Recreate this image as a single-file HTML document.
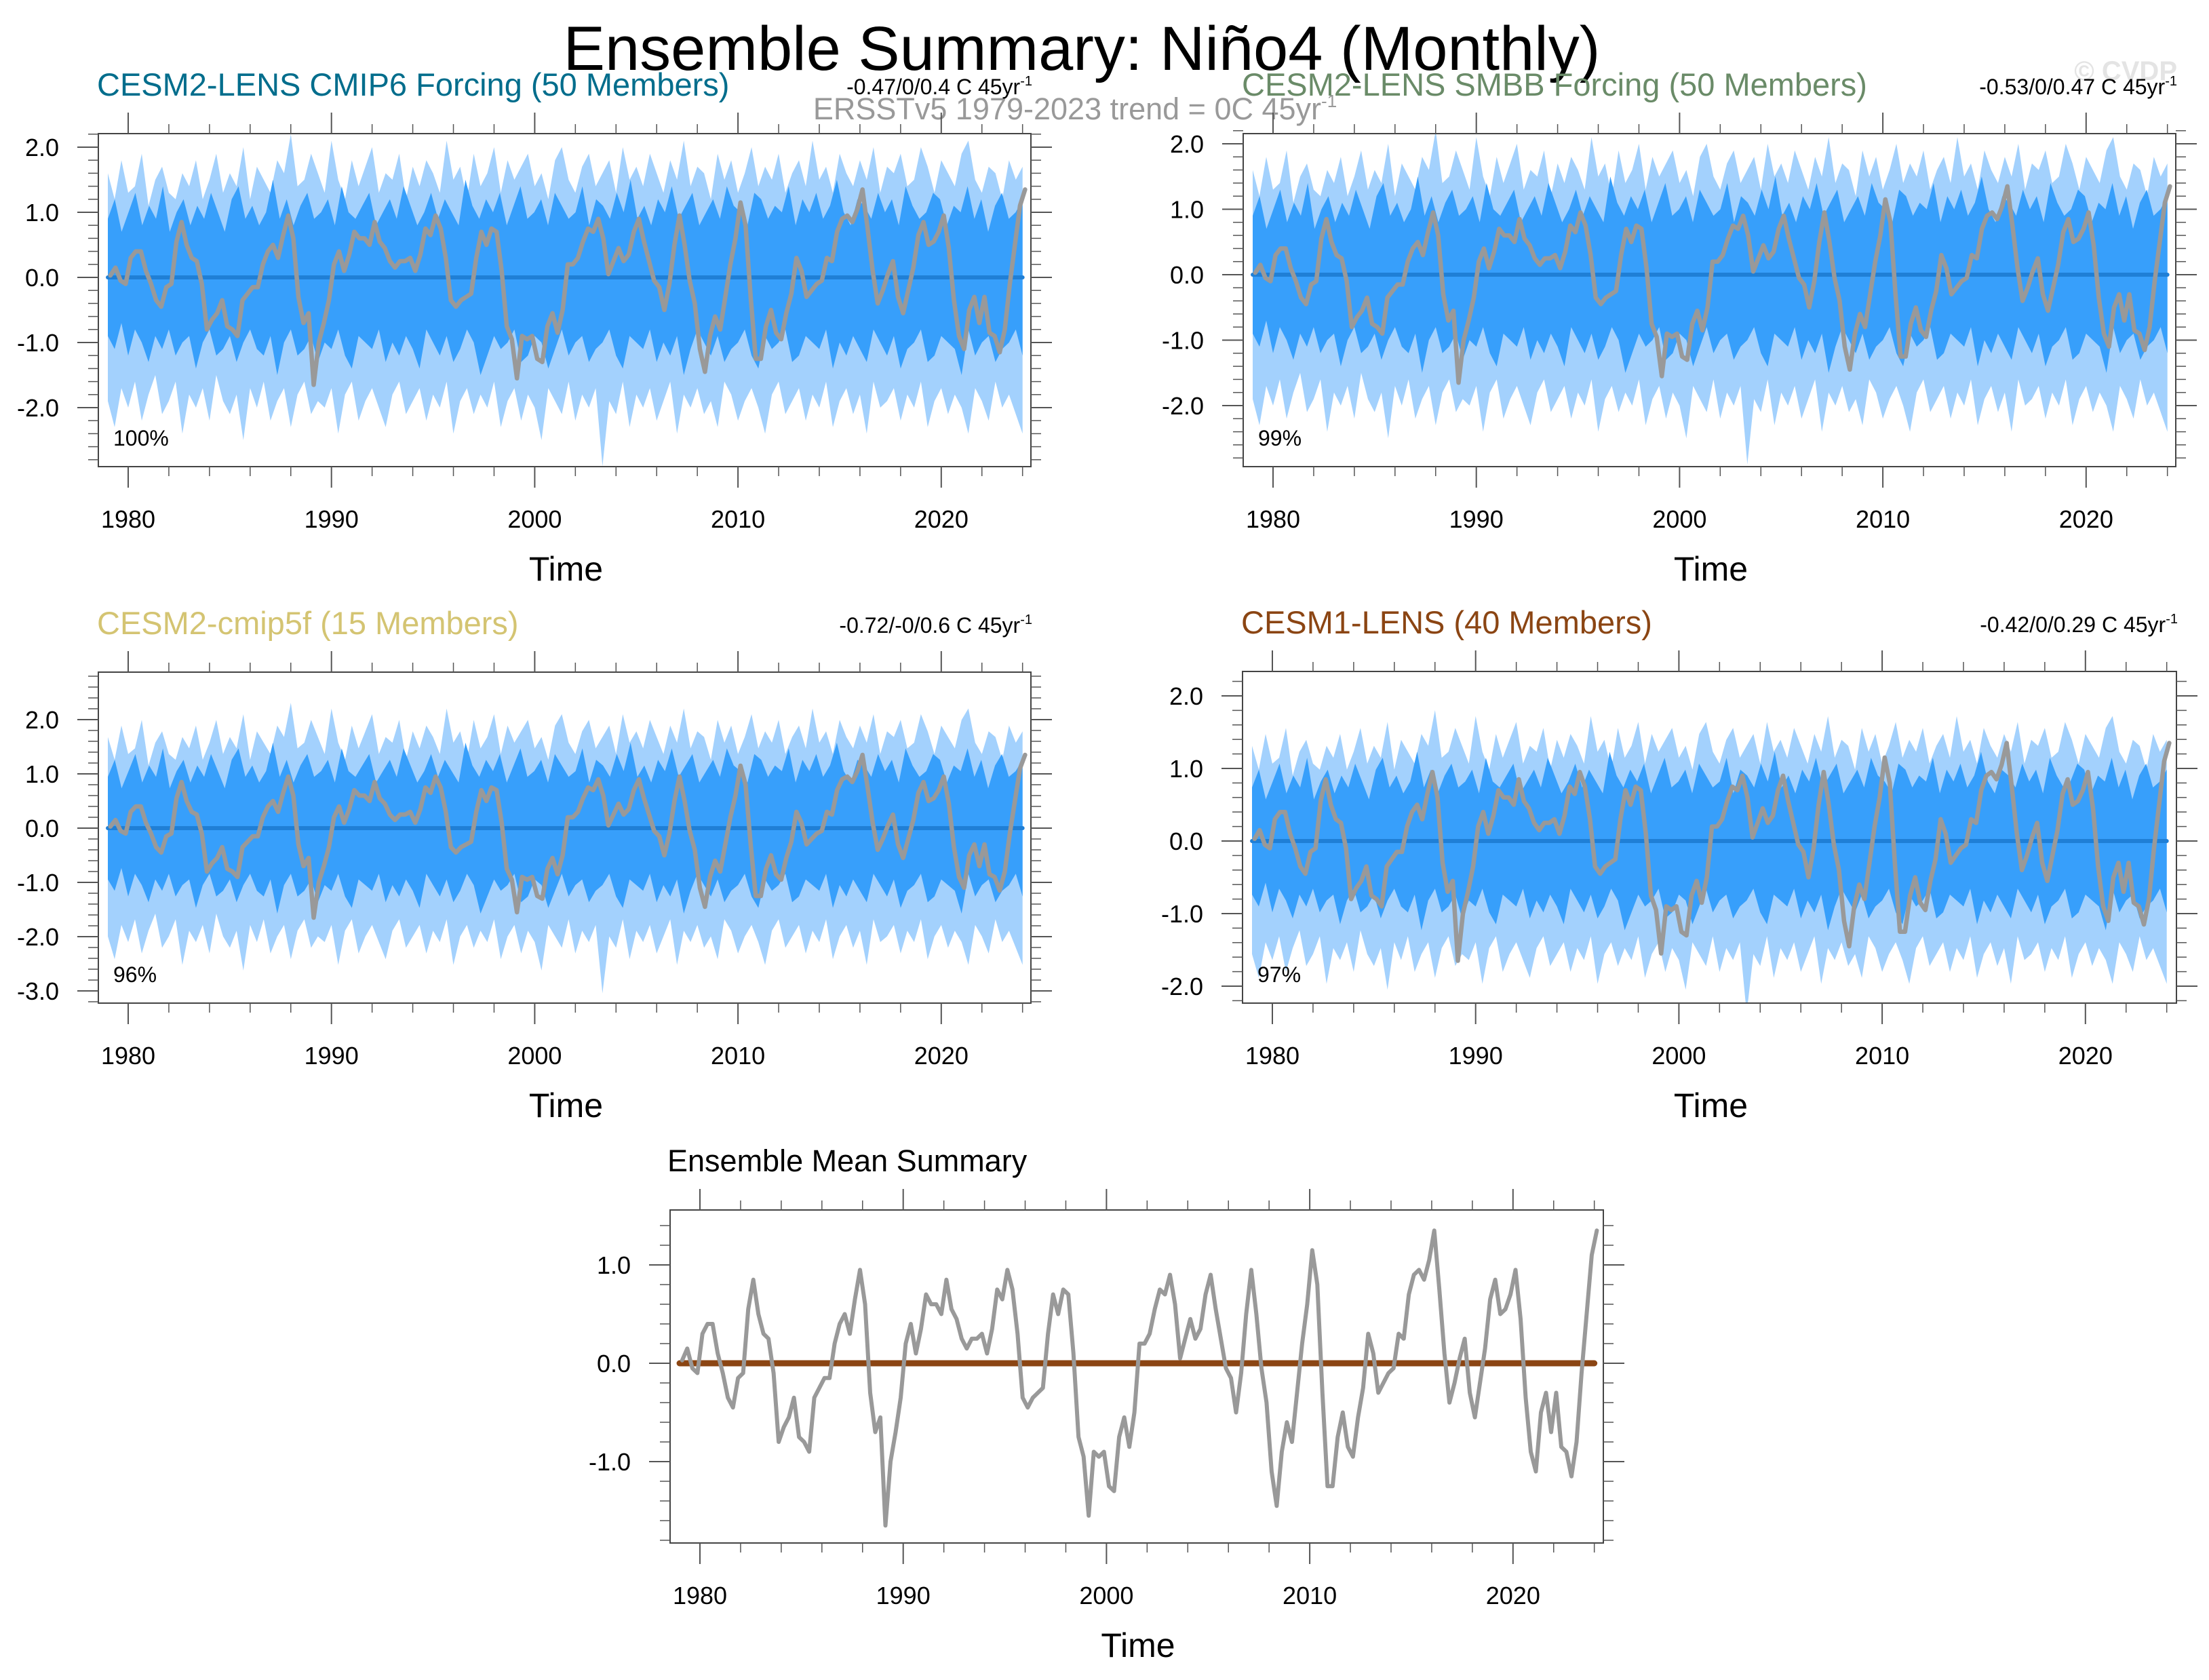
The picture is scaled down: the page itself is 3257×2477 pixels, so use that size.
<!DOCTYPE html>
<html><head><meta charset="utf-8"><style>
html,body{margin:0;padding:0;background:#fff;}
svg{display:block;font-family:"Liberation Sans",Arial,sans-serif;}
</style></head><body>
<svg id="root" xmlns="http://www.w3.org/2000/svg" width="3257" height="2477" viewBox="0 0 3257 2477">
<text x="1595" y="103" font-size="92" text-anchor="middle">Ensemble Summary: Niño4 (Monthly)</text>
<text x="1585" y="176" font-size="45" text-anchor="middle" fill="#999">ERSSTv5 1979-2023 trend = 0C 45yr<tspan dy="-18" font-size="26">-1</tspan></text>
<text x="3210" y="118" font-size="40" text-anchor="end" fill="#e4e4e4" font-weight="bold">© CVDP</text>
<g id="panels"></g>
</svg>
<script>
const obsValues=[0.03,0.15,-0.05,-0.1,0.3,0.4,0.4,0.1,-0.1,-0.35,-0.45,-0.15,-0.1,0.55,0.85,0.5,0.3,0.25,-0.1,-0.8,-0.65,-0.55,-0.35,-0.75,-0.8,-0.9,-0.35,-0.25,-0.15,-0.15,0.2,0.4,0.5,0.3,0.65,0.95,0.6,-0.3,-0.7,-0.55,-1.65,-1.0,-0.7,-0.35,0.2,0.4,0.1,0.35,0.7,0.6,0.6,0.5,0.85,0.55,0.45,0.25,0.15,0.25,0.25,0.3,0.1,0.35,0.75,0.65,0.95,0.75,0.3,-0.35,-0.45,-0.35,-0.3,-0.25,0.3,0.7,0.5,0.75,0.7,0.1,-0.75,-0.95,-1.55,-0.9,-0.95,-0.9,-1.25,-1.3,-0.75,-0.55,-0.85,-0.5,0.2,0.2,0.3,0.55,0.75,0.7,0.9,0.6,0.05,0.25,0.45,0.25,0.35,0.7,0.9,0.55,0.25,-0.05,-0.15,-0.5,-0.1,0.5,0.95,0.5,-0.05,-0.4,-1.1,-1.45,-0.9,-0.6,-0.8,-0.3,0.2,0.6,1.15,0.8,-0.3,-1.25,-1.25,-0.75,-0.5,-0.85,-0.95,-0.55,-0.25,0.3,0.1,-0.3,-0.2,-0.1,-0.05,0.3,0.25,0.7,0.9,0.95,0.85,1.05,1.35,0.75,0.1,-0.4,-0.2,0.05,0.25,-0.3,-0.55,-0.2,0.15,0.65,0.85,0.5,0.55,0.7,0.95,0.45,-0.35,-0.9,-1.1,-0.5,-0.3,-0.7,-0.3,-0.85,-0.9,-1.15,-0.8,-0.1,0.5,1.1,1.35];
const lightUp=[1.6,1.2,1.8,1.3,1.4,1.9,1.1,1.5,1.7,1.3,1.2,1.6,1.4,1.8,1.2,1.5,1.9,1.3,1.6,1.4,2.0,1.2,1.7,1.5,1.3,1.8,1.6,2.2,1.4,1.5,1.9,1.6,1.3,2.1,1.5,1.2,1.8,1.4,1.7,2.0,1.3,1.6,1.5,1.9,1.2,1.7,1.4,1.8,1.6,1.3,2.1,1.5,1.7,1.2,1.9,1.4,1.6,2.0,1.3,1.8,1.5,1.7,1.9,1.4,1.6,1.2,1.8,2.0,1.5,1.3,1.7,1.9,1.4,1.6,1.8,1.3,2.0,1.5,1.7,1.4,1.9,1.6,1.3,1.8,1.5,2.1,1.4,1.7,1.6,1.2,1.9,1.5,1.8,1.3,1.6,2.0,1.4,1.7,1.5,1.9,1.3,1.6,1.8,1.4,2.1,1.5,1.7,1.3,1.9,1.6,1.4,1.8,1.5,2.0,1.3,1.7,1.6,1.9,1.4,1.5,2.0,1.7,1.3,1.8,1.6,1.4,1.9,2.1,1.5,1.3,1.7,1.6,1.2,1.8,1.5,1.7];
const darkUp=[0.9,1.2,0.7,1.0,1.3,0.8,1.1,0.9,1.4,0.7,1.0,1.2,0.8,1.1,0.9,1.3,1.0,0.7,1.2,1.4,0.9,1.1,0.8,1.0,1.5,0.9,1.2,0.8,1.1,1.3,0.9,1.0,1.2,0.8,1.4,1.0,0.9,1.1,1.3,0.8,1.0,1.2,0.9,1.4,1.1,0.8,1.0,1.3,0.9,1.2,1.0,0.8,1.5,1.1,0.9,1.2,1.0,1.3,0.8,1.1,1.4,0.9,1.0,1.2,0.8,1.3,1.1,0.9,1.0,1.4,0.8,1.2,1.1,0.9,1.3,1.0,1.5,0.9,1.1,0.8,1.2,1.0,1.4,0.9,1.1,1.3,0.8,1.0,1.2,0.9,1.4,1.1,1.0,0.8,1.3,1.2,0.9,1.1,1.0,1.4,0.8,1.2,1.0,1.3,0.9,1.1,1.5,1.0,0.8,1.2,1.1,0.9,1.3,1.0,1.2,0.8,1.4,1.1,0.9,1.0,1.3,1.2,0.8,1.1,1.0,1.4,0.9,1.2,0.7,1.1,1.3,0.9,1.0,1.2];
const darkLo=[-0.9,-1.1,-0.7,-1.2,-0.8,-1.0,-1.3,-0.9,-1.1,-0.8,-1.2,-1.0,-0.9,-1.4,-1.0,-0.8,-1.2,-1.1,-0.9,-1.3,-1.0,-0.8,-1.1,-1.2,-0.9,-1.5,-1.0,-0.8,-1.2,-1.1,-0.9,-1.3,-1.0,-1.1,-0.8,-1.2,-1.4,-0.9,-1.0,-1.1,-0.8,-1.3,-1.0,-1.2,-0.9,-1.1,-1.4,-0.8,-1.0,-1.2,-0.9,-1.3,-1.1,-0.8,-1.0,-1.5,-1.2,-0.9,-1.1,-1.0,-0.8,-1.3,-1.2,-0.9,-1.0,-1.4,-1.1,-0.8,-1.2,-1.0,-0.9,-1.3,-1.1,-1.0,-0.8,-1.2,-1.4,-0.9,-1.0,-1.1,-0.8,-1.3,-1.0,-1.2,-0.9,-1.5,-1.1,-0.8,-1.0,-1.2,-0.9,-1.3,-1.1,-1.0,-0.8,-1.2,-1.4,-0.9,-1.1,-1.0,-0.8,-1.3,-1.2,-0.9,-1.0,-1.1,-0.8,-1.4,-1.0,-1.2,-0.9,-1.1,-1.3,-0.8,-1.0,-1.2,-0.9,-1.4,-1.1,-1.0,-0.8,-1.3,-1.2,-0.9,-1.0,-1.1,-1.5,-0.8,-1.2,-1.0,-0.9,-1.3,-1.1,-1.0,-0.8,-1.2];
const lightLo=[-1.9,-2.3,-1.7,-2.0,-1.6,-2.2,-1.8,-1.5,-2.1,-1.9,-1.6,-2.4,-1.8,-2.0,-1.7,-2.2,-1.5,-1.9,-2.1,-1.8,-2.5,-1.7,-2.0,-1.6,-2.2,-1.9,-1.7,-2.3,-1.8,-1.6,-2.1,-1.9,-2.0,-1.7,-2.4,-1.8,-1.6,-2.2,-1.9,-1.7,-2.0,-2.3,-1.8,-1.6,-2.1,-1.9,-1.7,-2.2,-1.8,-2.0,-1.6,-2.4,-1.9,-1.7,-2.1,-1.8,-2.0,-1.6,-2.3,-1.9,-1.7,-2.2,-1.8,-2.0,-2.5,-1.7,-1.9,-2.1,-1.6,-2.2,-1.8,-2.0,-1.7,-2.9,-1.9,-2.1,-1.6,-2.3,-1.8,-2.0,-1.7,-2.2,-1.9,-1.6,-2.4,-1.8,-2.0,-1.7,-2.1,-1.9,-2.3,-1.6,-1.8,-2.2,-1.9,-1.7,-2.0,-2.4,-1.8,-1.6,-2.1,-1.9,-1.7,-2.2,-1.8,-2.0,-1.6,-2.3,-1.9,-1.7,-2.1,-1.8,-2.4,-1.6,-2.0,-1.9,-1.7,-2.2,-1.8,-2.0,-1.6,-2.3,-1.9,-1.7,-2.1,-1.8,-2.0,-2.4,-1.7,-1.9,-2.2,-1.6,-2.0,-1.8,-2.1,-2.4];
const xTickYears=[1980,1990,2000,2010,2020];
const panelTitles=["CESM2-LENS CMIP6 Forcing (50 Members)","CESM2-LENS SMBB Forcing (50 Members)","CESM2-cmip5f (15 Members)","CESM1-LENS (40 Members)","Ensemble Mean Summary"];
const panelTrends=["-0.47/0/0.4 C 45yr","-0.53/0/0.47 C 45yr","-0.72/-0/0.6 C 45yr","-0.42/0/0.29 C 45yr",""];
const panelPct=["100%","99%","96%","97%",""];
const panelYTicks=[[2,1,0,-1,-2],[2,1,0,-1,-2],[2,1,0,-1,-2,-3],[2,1,0,-1,-2],[1,0,-1]];

const panels=[
 {L:145,T:197,R:1520,B:688,y0:409,u:96,yMin:-2.9,yMax:2.22,col:"#006d8c",bands:true,bs:1,mean:"#1f7fd6"},
 {L:1833,T:197,R:3208,B:688,y0:405,u:96.5,yMin:-2.9,yMax:2.2,col:"#6a8b68",bands:true,bs:1,mean:"#1f7fd6"},
 {L:145,T:991,R:1520,B:1479,y0:1221,u:80,yMin:-3.2,yMax:2.9,col:"#d4c472",bands:true,bs:1.05,mean:"#1f7fd6"},
 {L:1832,T:990,R:3209,B:1479,y0:1240,u:107,yMin:-2.2,yMax:2.35,col:"#8b4513",bands:true,bs:0.82,mean:"#1f7fd6"},
 {L:988,T:1784,R:2364,B:2275,y0:2010,u:145,yMin:-1.83,yMax:1.56,col:"#000",bands:false,bs:1,mean:"#8b4513"}
];
const NS="http://www.w3.org/2000/svg";
const root=document.getElementById('panels');
function mk(tag,attrs,parent){const e=document.createElementNS(NS,tag);for(const k in attrs)e.setAttribute(k,attrs[k]);parent.appendChild(e);return e;}

panels.forEach((p,i)=>{
 const g=mk('g',{},root);
 
 
 const X=yr=>p.L+44+(yr-1980)*29.97;
 const Y=v=>p.y0-v*p.u;
 const clipId='clip'+i;
 const cp=mk('clipPath',{id:clipId},g);mk('rect',{x:p.L,y:p.T,width:p.R-p.L,height:p.B-p.T},cp);
 const plot=mk('g',{'clip-path':'url(#'+clipId+')'},g);
 if(p.bands){
  const band=(up,lo,fill,name)=>{
   const n=up.length;let pts=[];
   for(let k=0;k<n;k++)pts.push(X(1979+45*k/(n-1)).toFixed(1)+','+(p.y0-up[k]*p.u*p.bs).toFixed(1));
   for(let k=lo.length-1;k>=0;k--)pts.push(X(1979+45*k/(lo.length-1)).toFixed(1)+','+(p.y0-lo[k]*p.u*p.bs).toFixed(1));
   const pg=mk('polygon',{points:pts.join(' '),fill:fill},plot);
   
   
  };
  band(lightUp,lightLo,"#a3d1fd","spread-band-outer");
  band(darkUp,darkLo,"#379ffb","spread-band-inner");
 }
 const ml=mk('line',{x1:X(1979),x2:X(2024),y1:Y(0),y2:Y(0),stroke:p.mean,'stroke-width':p.bands?6:9,'stroke-linecap':'round'},plot);
 
 
 let d='';
 obsValues.forEach((v,k)=>{d+=(k?'L':'M')+X(1979+0.125+k*0.25).toFixed(1)+','+Y(v).toFixed(1);});
 const ol=mk('path',{d:d,fill:'none',stroke:'#999','stroke-width':p.bands?6.5:6,'stroke-linejoin':'round','stroke-linecap':'round'},plot);
 
 
 const fr=mk('rect',{x:p.L,y:p.T,width:p.R-p.L,height:p.B-p.T,fill:'none',stroke:'#444','stroke-width':2},g);
 
 
 for(let yr=1980;yr<=2024;yr+=2){
  const major=(yr%10===0);const x=X(yr);
  if(x>p.R)continue;
  mk('line',{x1:x,x2:x,y1:p.T,y2:p.T-(major?31:14),stroke:'#555','stroke-width':major?2:1.5},g);
  mk('line',{x1:x,x2:x,y1:p.B,y2:p.B+(major?31:14),stroke:'#555','stroke-width':major?2:1.5},g);
 }
 xTickYears.forEach(yr=>{
  const t=mk('text',{x:X(yr),y:p.B+90,'font-size':36,'text-anchor':'middle'},g);t.textContent=yr;
  
  
 });
 const lo=Math.ceil(p.yMin*5),hi=Math.floor(p.yMax*5);
 for(let m=lo;m<=hi;m++){
  const v=m/5,y=Y(v),major=(m%5===0);
  mk('line',{x1:p.L,x2:p.L-(major?31:15),y1:y,y2:y,stroke:'#555','stroke-width':major?2:1.5},g);
  mk('line',{x1:p.R,x2:p.R+(major?31:15),y1:y,y2:y,stroke:'#555','stroke-width':major?2:1.5},g);
 }
 panelYTicks[i].forEach(v=>{
  const t=mk('text',{x:p.L-58,y:Y(v)+13,'font-size':36,'text-anchor':'end'},g);t.textContent=v.toFixed(1);
  
  
 });
 const tt=mk('text',{x:(p.L+p.R)/2+2,y:p.B+168,'font-size':50,'text-anchor':'middle'},g);tt.textContent='Time';
 
 
 const ti=mk('text',{x:i===4?p.L-4:p.L-2,y:p.T-(i===4?57:56),'font-size':i===4?45:47,fill:p.col},g);ti.textContent=panelTitles[i];
 
 
 if(panelTrends[i]){
  const tr=mk('text',{x:p.R+2,y:p.T-58,'font-size':32,'text-anchor':'end'},g);tr.textContent=panelTrends[i];
  const sp=mk('tspan',{dy:-13,'font-size':20},tr);sp.textContent='-1';
  
  
  const pc=mk('text',{x:p.L+22,y:p.B-31,'font-size':32},g);pc.textContent=panelPct[i];
  
  
 }
});
</script>
</body></html>
